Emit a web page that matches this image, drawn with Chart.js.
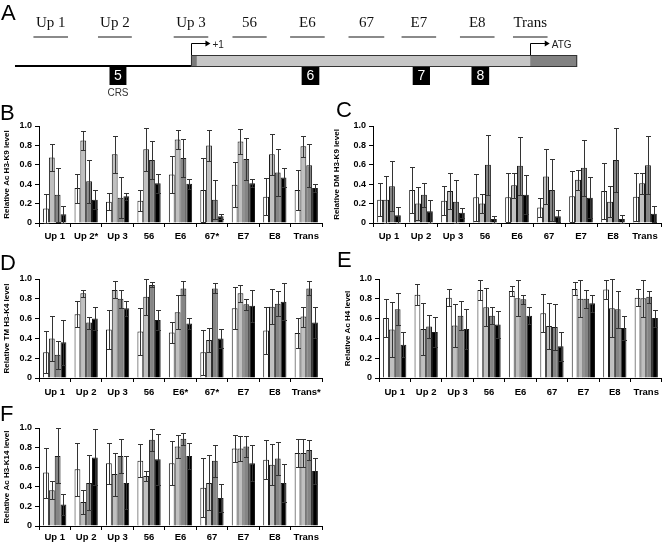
<!DOCTYPE html>
<html>
<head>
<meta charset="utf-8">
<script src="https://cdn.jsdelivr.net/npm/chart.js@4.4.1/dist/chart.umd.min.js"></script>
<style>
  body { margin: 0; background: #fff; }
  #fig { position: relative; width: 664px; height: 544px; overflow: hidden; background: #fff; }
  #fig canvas { position: absolute; }
  .lab { position: absolute; font: 22px "Liberation Sans", Arial, sans-serif; line-height: 22px; color: #000; }
</style>
</head>
<body>
<div id="fig">
  <canvas id="chartA" width="664" height="100" style="left:0;top:0"></canvas>
  <canvas id="chartB" width="330" height="150" style="left:0;top:95px"></canvas>
  <canvas id="chartC" width="334" height="150" style="left:330px;top:95px"></canvas>
  <canvas id="chartD" width="330" height="135" style="left:0;top:265px"></canvas>
  <canvas id="chartE" width="334" height="135" style="left:330px;top:265px"></canvas>
  <canvas id="chartF" width="330" height="134" style="left:0;top:410px"></canvas>
  <div class="lab" style="left:1px;top:2px">A</div>
  <div class="lab" style="left:0;top:102px">B</div>
  <div class="lab" style="left:336px;top:99px">C</div>
  <div class="lab" style="left:0;top:252px">D</div>
  <div class="lab" style="left:337px;top:249px">E</div>
  <div class="lab" style="left:0;top:403px">F</div>
</div>
<script>
// ---- panel A: gene map (map units along the locus) ----
const ampLabels = ['Up 1', 'Up 2', 'Up 3', '56', 'E6', '67', 'E7', 'E8', 'Trans'];
const ampStart = [90, 258, 455, 608, 758, 910, 1048, 1200, 1338];
const ampEnd = [180, 346, 545, 697, 848, 1003, 1138, 1290, 1428];
const exonNames = ['5', '6', '7', '8'];
const exonStart = [288, 788, 1077, 1230];
const exonEnd = [332, 834, 1122, 1276];
const locusStart = 42, tssPos = 500, utrEnd = 515, atgPos = 1383, locusEnd = 1505;

// ---- panels B-F ----
const catsPlain = ['Up 1', 'Up 2', 'Up 3', '56', 'E6', '67', 'E7', 'E8', 'Trans'];
const catsB = ['Up 1', 'Up 2*', 'Up 3', '56', 'E6', '67*', 'E7', 'E8', 'Trans'];
const catsD = ['Up 1', 'Up 2', 'Up 3', '56', 'E6*', '67*', 'E7', 'E8', 'Trans*'];

// each panel: 4 series (white, light grey, dark grey, black)
const acK9Mean = [
  [0.15, 0.36, 0.22, 0.23, 0.50, 0.34, 0.395, 0.27, 0.34],
  [0.675, 0.85, 0.71, 0.76, 0.86, 0.80, 0.84, 0.71, 0.79],
  [0.29, 0.43, 0.26, 0.65, 0.67, 0.24, 0.66, 0.52, 0.595],
  [0.09, 0.24, 0.275, 0.41, 0.405, 0.07, 0.41, 0.47, 0.36]
];
const acK9Err = [
  [0.15, 0.15, 0.09, 0.11, 0.19, 0.33, 0.23, 0.19, 0.21],
  [0.14, 0.10, 0.19, 0.22, 0.10, 0.16, 0.13, 0.21, 0.11],
  [0.28, 0.22, 0.21, 0.20, 0.20, 0.20, 0.22, 0.24, 0.22],
  [0.09, 0.10, 0.035, 0.10, 0.05, 0.025, 0.04, 0.10, 0.04]
];
const dmK9Mean = [
  [0.24, 0.34, 0.23, 0.265, 0.265, 0.16, 0.275, 0.33, 0.27],
  [0.24, 0.20, 0.33, 0.20, 0.39, 0.48, 0.445, 0.22, 0.41],
  [0.38, 0.29, 0.22, 0.60, 0.59, 0.34, 0.57, 0.65, 0.595],
  [0.08, 0.12, 0.105, 0.04, 0.29, 0.07, 0.26, 0.04, 0.095]
];
const dmK9Err = [
  [0.17, 0.24, 0.15, 0.24, 0.255, 0.10, 0.265, 0.29, 0.25],
  [0.24, 0.17, 0.19, 0.10, 0.13, 0.28, 0.10, 0.16, 0.11],
  [0.26, 0.12, 0.22, 0.31, 0.30, 0.32, 0.29, 0.33, 0.30],
  [0.08, 0.12, 0.05, 0.035, 0.20, 0.06, 0.21, 0.04, 0.08]
];
const tmK4Mean = [
  [0.26, 0.645, 0.49, 0.47, 0.46, 0.26, 0.705, 0.48, 0.455],
  [0.40, 0.855, 0.89, 0.82, 0.665, 0.385, 0.855, 0.72, 0.62],
  [0.235, 0.56, 0.80, 0.94, 0.905, 0.905, 0.745, 0.75, 0.905],
  [0.36, 0.60, 0.705, 0.585, 0.55, 0.40, 0.73, 0.77, 0.56]
];
const tmK4Err = [
  [0.21, 0.13, 0.20, 0.235, 0.105, 0.225, 0.21, 0.24, 0.15],
  [0.23, 0.035, 0.085, 0.18, 0.175, 0.125, 0.085, 0.175, 0.10],
  [0.14, 0.06, 0.09, 0.025, 0.07, 0.05, 0.055, 0.125, 0.07],
  [0.23, 0.12, 0.075, 0.10, 0.055, 0.10, 0.16, 0.185, 0.16]
];
const acH4Mean = [
  [0.605, 0.84, 0.81, 0.89, 0.88, 0.655, 0.90, 0.895, 0.81],
  [0.49, 0.495, 0.53, 0.715, 0.805, 0.525, 0.80, 0.705, 0.805],
  [0.695, 0.52, 0.63, 0.63, 0.795, 0.515, 0.80, 0.695, 0.82],
  [0.335, 0.465, 0.495, 0.54, 0.63, 0.32, 0.755, 0.505, 0.605]
];
const acH4Err = [
  [0.195, 0.105, 0.085, 0.10, 0.05, 0.19, 0.065, 0.095, 0.085],
  [0.28, 0.26, 0.215, 0.19, 0.18, 0.23, 0.185, 0.29, 0.185],
  [0.16, 0.12, 0.15, 0.085, 0.045, 0.235, 0.09, 0.185, 0.06],
  [0.125, 0.155, 0.20, 0.14, 0.085, 0.145, 0.085, 0.125, 0.085]
];
const acK14Mean = [
  [0.545, 0.58, 0.64, 0.665, 0.64, 0.39, 0.79, 0.675, 0.745],
  [0.365, 0.245, 0.53, 0.51, 0.81, 0.44, 0.79, 0.625, 0.745],
  [0.715, 0.44, 0.715, 0.88, 0.89, 0.665, 0.81, 0.69, 0.775],
  [0.22, 0.70, 0.44, 0.68, 0.715, 0.285, 0.64, 0.44, 0.56]
];
const acK14Err = [
  [0.255, 0.27, 0.21, 0.17, 0.225, 0.30, 0.135, 0.20, 0.14],
  [0.09, 0.12, 0.22, 0.05, 0.12, 0.28, 0.13, 0.21, 0.145],
  [0.28, 0.28, 0.17, 0.11, 0.06, 0.165, 0.11, 0.17, 0.105],
  [0.11, 0.285, 0.27, 0.26, 0.13, 0.14, 0.185, 0.19, 0.13]
];
const yTicks = [0, 0.2, 0.4, 0.6, 0.8, 1];

const barColors = ['#ffffff', '#c0c0c0', '#858585', '#000000'];
const sansBold = '"Liberation Sans", Arial, sans-serif';

// draw the map of the locus in panel A through the chart's x/y scales
const geneMap = {
  id: 'geneMap',
  afterDraw(chart) {
    const ctx = chart.ctx, x = chart.scales.x, y = chart.scales.y;
    const px = v => x.getPixelForValue(v), py = v => y.getPixelForValue(v);
    ctx.save();
    // amplicons
    ctx.font = '15px "Liberation Serif", "Times New Roman", serif';
    ctx.textAlign = 'center';
    ctx.textBaseline = 'middle';
    for (let i = 0; i < ampLabels.length; i++) {
      const a = px(ampStart[i]), b = px(ampEnd[i]);
      ctx.fillStyle = '#111';
      ctx.fillText(ampLabels[i], (a + b) / 2, py(23));
      ctx.strokeStyle = '#8a8a8a';
      ctx.lineWidth = 2;
      ctx.beginPath(); ctx.moveTo(a, py(37)); ctx.lineTo(b, py(37)); ctx.stroke();
    }
    // upstream line
    ctx.strokeStyle = '#000';
    ctx.lineWidth = 2;
    ctx.beginPath(); ctx.moveTo(px(locusStart), py(66)); ctx.lineTo(px(tssPos), py(66)); ctx.stroke();
    // transcript box
    const top = py(55), bot = py(67);
    ctx.fillStyle = '#c6c6c6';
    ctx.fillRect(px(tssPos), top, px(locusEnd) - px(tssPos), bot - top);
    ctx.fillStyle = '#7a7a7a';
    ctx.fillRect(px(tssPos), top, px(utrEnd) - px(tssPos), bot - top);
    ctx.fillStyle = '#828282';
    ctx.fillRect(px(atgPos), top, px(locusEnd) - px(atgPos), bot - top);
    ctx.strokeStyle = '#333';
    ctx.lineWidth = 1;
    ctx.strokeRect(px(tssPos) + 0.5, top + 0.5, px(locusEnd) - px(tssPos) - 1, bot - top - 1);
    // start arrows
    const arrow = (pos, text) => {
      const x0 = Math.round(px(pos)) + 0.5, x1 = px(pos + 48), ya = Math.round(py(43)) + 0.5;
      ctx.strokeStyle = '#000';
      ctx.lineWidth = 1;
      ctx.beginPath(); ctx.moveTo(x0, top); ctx.lineTo(x0, ya); ctx.lineTo(x1 - 3, ya); ctx.stroke();
      ctx.fillStyle = '#000';
      ctx.beginPath(); ctx.moveTo(x1 + 1, ya); ctx.lineTo(x1 - 4, ya - 3); ctx.lineTo(x1 - 4, ya + 3); ctx.closePath(); ctx.fill();
      ctx.font = '10px "Liberation Sans", Arial, sans-serif';
      ctx.fillStyle = '#222';
      ctx.textAlign = 'left';
      ctx.fillText(text, x1 + 3, py(45));
    };
    arrow(tssPos, '+1');
    arrow(atgPos, 'ATG');
    // exons
    for (let i = 0; i < exonNames.length; i++) {
      const a = px(exonStart[i]), b = px(exonEnd[i]);
      ctx.fillStyle = '#000';
      ctx.fillRect(a, py(67), b - a, py(85) - py(67));
      ctx.fillStyle = '#fff';
      ctx.font = '14px "Liberation Sans", Arial, sans-serif';
      ctx.textAlign = 'center';
      ctx.fillText(exonNames[i], (a + b) / 2, py(76.5));
    }
    ctx.fillStyle = '#333';
    ctx.font = '10px "Liberation Sans", Arial, sans-serif';
    ctx.fillText('CRS', (px(exonStart[0]) + px(exonEnd[0])) / 2, py(93));
    ctx.restore();
  }
};

new Chart(document.getElementById('chartA'), {
  type: 'scatter',
  data: { datasets: [] },
  options: {
    responsive: false, animation: false,
    layout: { padding: 0 },
    plugins: { legend: { display: false }, tooltip: { enabled: false } },
    scales: {
      x: { type: 'linear', min: 3, max: 1731, display: false },
      y: { type: 'linear', min: 0, max: 100, reverse: true, display: false }
    }
  },
  plugins: [geneMap]
});

// error bars drawn from each dataset's errors through the y scale
const errorBars = {
  id: 'errorBars',
  afterDatasetsDraw(chart) {
    const ctx = chart.ctx, y = chart.scales.y;
    ctx.save();
    ctx.strokeStyle = '#333';
    ctx.lineWidth = 1;
    chart.data.datasets.forEach((ds, i) => {
      chart.getDatasetMeta(i).data.forEach((bar, j) => {
        const m = ds.data[j], e = ds.errors[j];
        const xx = Math.round(bar.x) + 0.5;
        const t = Math.round(y.getPixelForValue(m + e)) + 0.5;
        const b = Math.round(y.getPixelForValue(Math.max(0, m - e))) + 0.5;
        ctx.beginPath();
        ctx.moveTo(xx, t); ctx.lineTo(xx, b);
        ctx.moveTo(xx - 2.5, t); ctx.lineTo(xx + 2.5, t);
        ctx.moveTo(xx - 2.5, b); ctx.lineTo(xx + 2.5, b);
        ctx.stroke();
      });
    });
    ctx.restore();
  }
};

function makePanel(id, cats, means, errs, yTitle, lay) {
  const axisGrid = { display: true, drawOnChartArea: false, drawTicks: true, tickLength: 4, color: '#000', lineWidth: 1 };
  return new Chart(document.getElementById(id), {
    type: 'bar',
    data: {
      labels: cats,
      datasets: means.map((vals, i) => ({
        data: vals,
        errors: errs[i],
        backgroundColor: barColors[i],
        borderColor: '#1a1a1a',
        borderWidth: 1,
        barPercentage: 1,
        categoryPercentage: 0.74
      }))
    },
    options: {
      responsive: false, animation: false,
      layout: { padding: { top: lay.top, right: lay.right, left: 0, bottom: 0 } },
      plugins: { legend: { display: false }, tooltip: { enabled: false } },
      scales: {
        x: {
          grid: Object.assign({ offset: true }, axisGrid),
          border: { color: '#000', width: 1 },
          ticks: { color: '#000', autoSkip: false, maxRotation: 0, padding: lay.xPad,
                   font: { family: sansBold, size: 9.5, weight: 'bold' } },
          afterFit: s => { s.height = lay.xH; }
        },
        y: {
          min: 0, max: 1,
          afterBuildTicks: s => { s.ticks = yTicks.map(v => ({ value: v })); },
          grid: axisGrid,
          border: { color: '#000', width: 1 },
          ticks: { color: '#000', padding: 3, font: { family: sansBold, size: 9, weight: 'bold' } },
          title: { display: true, text: yTitle, color: '#000', padding: { top: lay.titlePad, bottom: 0 },
                   font: { family: sansBold, size: 8, weight: 'bold' } },
          afterFit: s => { s.width = lay.yW; }
        }
      }
    },
    plugins: [errorBars]
  });
}

makePanel('chartB', catsB, acK9Mean, acK9Err, 'Relative Ac H3-K9 level',
  { top: 31, right: 8, yW: 39, xH: 22, xPad: 4, titlePad: 2 });
makePanel('chartC', catsPlain, dmK9Mean, dmK9Err, 'Relative DM H3-K9 level',
  { top: 31, right: 3, yW: 43, xH: 22, xPad: 4, titlePad: 2 });
makePanel('chartD', catsD, tmK4Mean, tmK4Err, 'Relative TM H3-K4 level',
  { top: 14, right: 8, yW: 39, xH: 22, xPad: 5, titlePad: 2 });
makePanel('chartE', catsPlain, acH4Mean, acH4Err, 'Relative Ac H4 level',
  { top: 14, right: 1, yW: 49, xH: 22, xPad: 5, titlePad: 13 });
makePanel('chartF', catsPlain, acK14Mean, acK14Err, 'Relative Ac H3-K14 level',
  { top: 18, right: 8, yW: 39, xH: 18, xPad: 2, titlePad: 2 });
</script>
</body>
</html>
